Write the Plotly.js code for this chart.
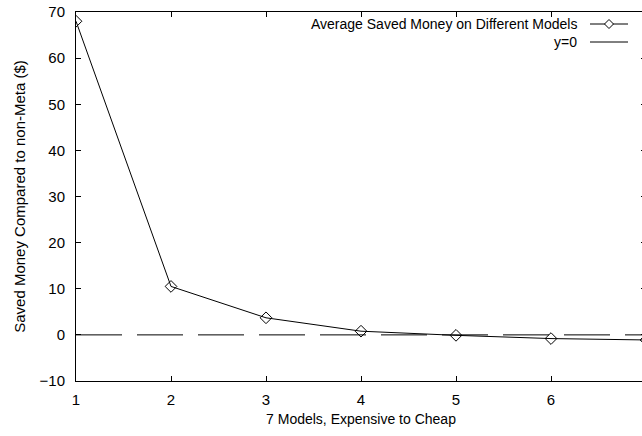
<!DOCTYPE html>
<html><head><meta charset="utf-8">
<script src="https://cdn.plot.ly/plotly-3.0.1.min.js"></script>
<style>html,body{margin:0;padding:0;overflow:hidden;background:#fff;}</style>
</head><body><div id="chart"></div>
<script>
const models = [1, 2, 3, 4, 5, 6, 7];
const savedMoney = [68, 10.5, 3.7, 0.8, -0.1, -0.8, -1.1];
const zeroX = [1, 7];
const zeroY = [0, 0];
const xTicks = [1, 2, 3, 4, 5, 6];
const yTicks = [-10, 0, 10, 20, 30, 40, 50, 60, 70];
const legendLabels = ['Average Saved Money on Different Models', 'y=0'];

const fam = 'Liberation Sans, Arial, sans-serif';
const font = {family: fam, size: 14, color: '#000'};
const tickFont = {family: fam, size: 15, color: '#000'};

const traces = [
  {x: zeroX, y: zeroY, mode: 'lines', line: {color: '#000', width: 1, dash: '46px,15px'}, showlegend: false, hoverinfo: 'skip'},
  {x: models, y: savedMoney, mode: 'lines+markers', line: {color: '#000', width: 1},
   marker: {symbol: 'diamond-open', size: 9, color: '#000', line: {width: 1}}, showlegend: false}
];

const W = 660, H = 436;
const ml = 76, mr = 14, mt = 12, mb = 55;
const pw = W - ml - mr, ph = H - mt - mb;
function px(xp){ return (xp - ml) / pw; }
function py(yp){ return (H - mb - yp) / ph; }

const shapes = [];
const annotations = [];
const rows = [24, 42];
rows.forEach((yy, i) => {
  annotations.push({xref: 'paper', yref: 'paper', x: px(579), y: py(yy), xanchor: 'right', yanchor: 'middle',
    text: legendLabels[i], showarrow: false, font: font});
  shapes.push({type: 'line', xref: 'paper', yref: 'paper', x0: px(590), x1: px(628), y0: py(yy), y1: py(yy),
    line: {color: '#000', width: 1}});
});
const cx = 609, cy = 24, r = 4.5;
shapes.push({type: 'path', xref: 'paper', yref: 'paper',
  path: `M ${px(cx-r)} ${py(cy)} L ${px(cx)} ${py(cy-r)} L ${px(cx+r)} ${py(cy)} L ${px(cx)} ${py(cy+r)} Z`,
  line: {color: '#000', width: 1}, fillcolor: '#fff'});

const layout = {
  width: W, height: H,
  margin: {l: ml, r: mr, t: mt, b: mb},
  paper_bgcolor: '#fff', plot_bgcolor: '#fff',
  font: font,
  showlegend: false,
  xaxis: {range: [1, 7], tickvals: xTicks, ticks: 'inside', ticklen: 5, tickcolor: '#000',
    showline: true, linecolor: '#000', linewidth: 1, mirror: 'ticks', showgrid: false, zeroline: false,
    ticklabelstandoff: 5, tickfont: tickFont,
    title: {text: '7 Models, Expensive to Cheap', font: {family: fam, size: 14, color: '#000'}, standoff: 7}},
  yaxis: {range: [-10, 70], tickvals: yTicks, ticks: 'inside', ticklen: 5, tickcolor: '#000',
    showline: true, linecolor: '#000', linewidth: 1, mirror: 'ticks', showgrid: false, zeroline: false,
    ticklabelstandoff: 7, tickfont: tickFont,
    title: {text: 'Saved Money Compared to non-Meta ($)', font: {family: fam, size: 15, color: '#000'}, standoff: 10}},
  shapes: shapes,
  annotations: annotations
};

Plotly.newPlot('chart', traces, layout, {displayModeBar: false, staticPlot: true});
</script></body></html>
